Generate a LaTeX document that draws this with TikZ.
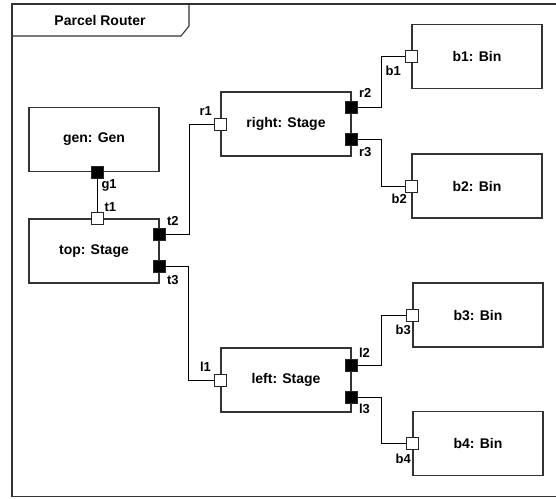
\documentclass[tikz,border=0pt]{standalone}
\usepackage{fontspec}
\setmainfont{Liberation Sans}
\usetikzlibrary{positioning}

\begin{document}
\begin{tikzpicture}[
  x=1pt, y=-1pt,
  font=\fontsize{14}{16}\selectfont\bfseries,
  part/.style={draw=black!80, line width=1.1pt, minimum width=130pt,
    minimum height=64pt, inner sep=0pt},
  ip/.style={draw=black!85, line width=0.7pt, fill=white, minimum size=12pt,
    inner sep=0pt},
  op/.style={ip, fill=black},
  pl/.style={font=\fontsize{13}{15}\selectfont\bfseries, inner sep=1pt},
  wire/.style={line width=0.9pt}
]
\useasboundingbox (0,0) rectangle (556,498);
\draw[black!80, line width=1.1pt] (12,4) rectangle (562,496.5);
\draw[black!80, line width=1.1pt] (12,36) -- (181,36) -- (189,26) -- (189,4);
\node (title) at (100,20) {Parcel Router};

% parts
\node[part] (gen) at (94,139.5) {gen: Gen};
\node[part] (top) at (94,251) {top: Stage};
\node[part] (rgt) at (286,124) {right: Stage};
\node[part] (lft) at (286,380) {left: Stage};
\node[part] (bx1) at (477,56.5) {b1: Bin};
\node[part] (bx2) at (477,186) {b2: Bin};
\node[part] (bx3) at (478,315) {b3: Bin};
\node[part] (bx4) at (478,443.5) {b4: Bin};

% wires
\draw[wire] ([xshift=3pt]gen.south) -- ([xshift=3pt]top.north);
\draw[wire] ([yshift=17pt]top.east) -- ++(30,0) |- (rgt.west);
\draw[wire] ([yshift=-15pt]top.east) -- ++(29,0) |- (lft.west);
\draw[wire] ([yshift=17pt]rgt.east) -- ++(30,0) |- (bx1.west);
\draw[wire] ([yshift=-15pt]rgt.east) -- ++(30,0) |- (bx2.west);
\draw[wire] ([yshift=15pt]lft.east) -- ++(30,0) |- (bx3.west);
\draw[wire] ([yshift=-17pt]lft.east) -- ++(30,0) |- (bx4.west);

% ports
\node[op] (g1) at ([xshift=3pt]gen.south) {};
\node[ip] (t1) at ([xshift=3pt]top.north) {};
\node[op] (t2) at ([yshift=17pt]top.east) {};
\node[op] (t3) at ([yshift=-15pt]top.east) {};
\node[ip] (r1) at (rgt.west) {};
\node[op] (r2) at ([yshift=17pt]rgt.east) {};
\node[op] (r3) at ([yshift=-15pt]rgt.east) {};
\node[ip] (l1) at (lft.west) {};
\node[op] (l2) at ([yshift=15pt]lft.east) {};
\node[op] (l3) at ([yshift=-17pt]lft.east) {};
\node[ip] (b1) at (bx1.west) {};
\node[ip] (b2) at (bx2.west) {};
\node[ip] (b3) at (bx3.west) {};
\node[ip] (b4) at (bx4.west) {};

% port labels
\node[pl, below right=0pt and -3pt of g1] (g1l) {g1};
\node[pl, above right=-1pt and 0pt of t1] (t1l) {t1};
\node[pl, above right=1pt and 0pt of t2] (t2l) {t2};
\node[pl, below right=2pt and 0pt of t3] (t3l) {t3};
\node[pl, above left=1pt and 1pt of r1] (r1l) {r1};
\node[pl, above right=2pt and 0pt of r2] (r2l) {r2};
\node[pl, below right=1pt and 0pt of r3] (r3l) {r3};
\node[pl, above left=1pt and 2pt of l1] (l1l) {l1};
\node[pl, above right=0pt and 0pt of l2] (l2l) {l2};
\node[pl, below right=0pt and 0pt of l3] (l3l) {l3};
\node[pl, below left=2pt and 3pt of b1] (b1l) {b1};
\node[pl, below left=1pt and -3pt of b2] (b2l) {b2};
\node[pl, below left=3pt and -6pt of b3] (b3l) {b3};
\node[pl, below left=3pt and -6pt of b4] (b4l) {b4};
\end{tikzpicture}
\end{document}
